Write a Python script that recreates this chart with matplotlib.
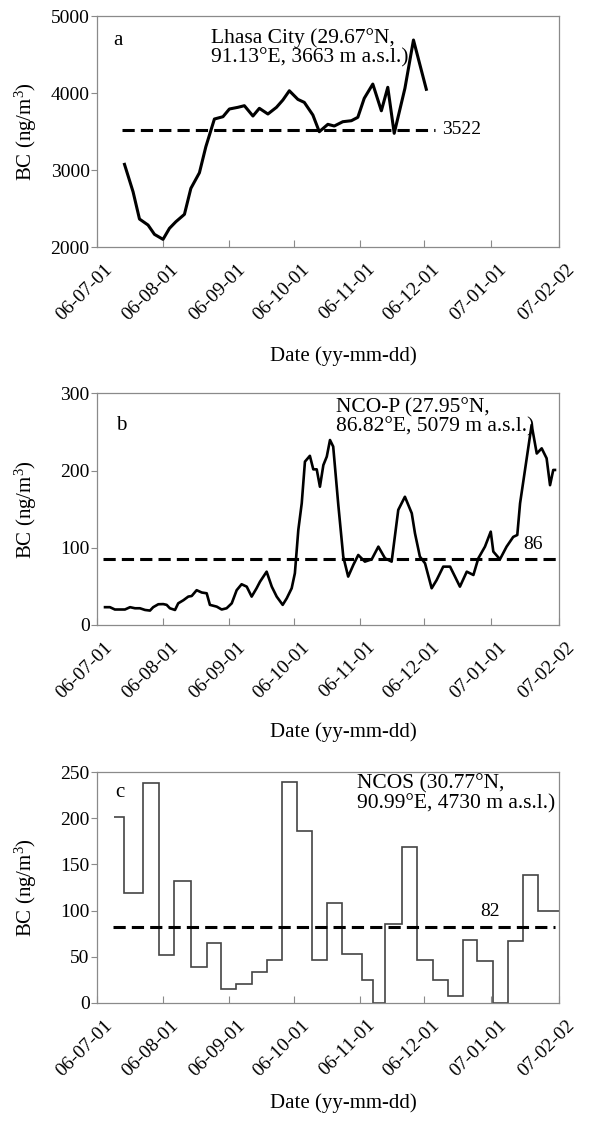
import matplotlib
matplotlib.use("Agg")
import matplotlib.pyplot as plt
import matplotlib.transforms as mtransforms
import numpy as np
import pandas as pd

plt.rcParams.update({
    "font.family": ["Liberation Serif", "DejaVu Serif"],
    "mathtext.fontset": "custom",
    "mathtext.rm": "Liberation Serif",
    "mathtext.default": "regular",
    "font.size": 14,
})

# x values are days after 2006-07-01
START = pd.Timestamp("2006-07-01")
XMAX = pd.Timestamp("2007-02-02")
tick_dates = ["2006-07-01", "2006-08-01", "2006-09-01", "2006-10-01",
              "2006-11-01", "2006-12-01", "2007-01-01", "2007-02-02"]

# (a) Lhasa City
lhasa_day = [13, 17, 20, 24, 27, 31, 34, 37, 41, 44, 48, 51, 55, 59, 62, 66, 69, 73, 76, 80,
             84, 87, 90, 94, 97, 101, 104, 108, 111, 115, 119, 122, 125, 129, 133, 136, 139,
             144, 148, 154]
lhasa_bc = [3074, 2718, 2364, 2286, 2165, 2100, 2243, 2329, 2425, 2762, 2965, 3303, 3663,
            3693, 3793, 3815, 3836, 3702, 3802, 3728, 3815, 3910, 4030, 3918, 3879, 3715,
            3498, 3594, 3572, 3628, 3641, 3685, 3932, 4117, 3770, 4075, 3477, 4061, 4689, 4049]
lhasa_mean = 3522
lhasa_mean_span = [12, 158]

# (b) NCO-P
ncop_day = [3.9, 6.2, 8.5, 10.9, 13.2, 15.6, 17.9, 20.2, 22.6, 24.9, 26.4, 28.8, 31.1, 32.7,
            34.2, 36.6, 38.1, 40.5, 42.8, 44.4, 46.7, 49.1, 51.4, 52.9, 56.1, 58.4, 60.7,
            63.1, 65.4, 67.7, 70.1, 72.4, 74.7, 76.3, 79.4, 81.8, 84.1, 86.9, 88.8, 91.1,
            92.6, 94.2, 95.8, 97.3, 99.6, 101.2, 102.8, 104.3, 105.9, 107.5, 109.0, 110.5,
            112.9, 115.2, 117.5, 119.9, 122.2, 125.3, 128.5, 131.6, 134.7, 137.8, 140.9,
            144.0, 147.2, 148.7, 151.0, 153.4, 156.5, 158.8, 161.9, 165.1, 167.4, 169.7,
            172.9, 176.0, 178.3, 181.4, 184.1, 185.3, 188.4, 191.5, 194.6, 196.5, 197.8,
            200.1, 203.2, 205.6, 207.9, 210.2, 211.8, 213.3, 214.1]
ncop_bc = [23, 23, 20, 20, 20, 23, 21.6, 21.6, 19.4, 18.6, 23, 26.8, 27, 26, 21.6, 19.4, 28,
           32, 36.7, 37.5, 45, 42, 41, 26, 23.7, 20, 21.6, 28, 45, 52.7, 49.6, 36.7, 47.5, 56,
           69, 49.6, 36.7, 26, 34.5, 47.5, 67, 123, 157.5, 211.5, 219, 201.5, 201.5, 179, 207,
           218, 239.5, 231, 155, 88.5, 62.6, 77.7, 90.6, 82, 85, 101.4, 86.3, 82, 149, 166,
           144.6, 118.7, 88.5, 79.8, 47.5, 58, 75.5, 75.5, 62.6, 49.6, 69, 64.7, 86.3, 101.4,
           120.8, 95, 85, 101.4, 114, 116.5, 157.5, 200.7, 259, 222, 228.7, 215.8, 181, 200.7,
           200.7]
ncop_mean = 86
ncop_mean_span = [3, 216]

# (c) NCOS weekly samples: bin edges and values
ncos_edges = [8.2, 12.9, 21.8, 29.1, 36.3, 44.1, 51.4, 58.2, 65.1, 72.6, 79.4, 86.6, 93.4,
              100.4, 107.5, 114.5, 123.8, 128.9, 134.7, 142.8, 149.8, 157.0, 164.0, 171.0,
              177.8, 185.0, 192.0, 199.0, 206.3, 216.1]
ncos_bc = [201, 119, 238, 52, 132, 39, 65, 15, 21, 34, 47, 239, 186, 46, 108, 53, 25, 0, 86,
           169, 46, 25, 8, 68, 45, 0, 67, 139, 100]
ncos_mean = 82
ncos_mean_span = [7.6, 214]


def to_dates(days):
    return START + pd.to_timedelta(np.asarray(days, dtype=float), unit="D")


SPINE = "#8a8a8a"

fig = plt.figure(figsize=(5.92, 11.24), dpi=100)
ax_a = fig.add_axes([0.1633, 0.7802, 0.7810, 0.2055])
ax_b = fig.add_axes([0.1633, 0.4440, 0.7810, 0.2061])
ax_c = fig.add_axes([0.1633, 0.1077, 0.7810, 0.2053])

# nudge rotated date labels right/down like the original
label_shift = mtransforms.ScaledTranslation(7 / 100, -4 / 100, fig.dpi_scale_trans)


def style(ax, ylim, yticks, label_y):
    ax.set_xlim(START, XMAX)
    ax.set_ylim(*ylim)
    ax.set_yticks(yticks)
    tds = pd.to_datetime(tick_dates)
    ax.set_xticks(tds, [d.strftime("%y-%m-%d") for d in tds], rotation=45,
                  ha="right", rotation_mode="anchor")
    for s in ax.spines.values():
        s.set_color(SPINE)
        s.set_linewidth(0.9)
    ax.tick_params(axis="x", direction="in", length=5, width=0.8, color=SPINE,
                   labelsize=14, pad=7)
    ax.tick_params(axis="y", direction="out", length=4, width=0.8, color=SPINE,
                   labelsize=14, pad=1)
    for tick in ax.xaxis.get_major_ticks():
        tick.label1.set_transform(tick.label1.get_transform() + label_shift)
    ax.set_ylabel("BC (ng/m$^{3}$)", fontsize=15)
    ax.yaxis.set_label_coords(-0.125, 0.5)
    ax.set_xlabel("Date (yy-mm-dd)", fontsize=15)
    ax.xaxis.set_label_coords(0.533, label_y)


dash = dict(color="black", linestyle=(0, (4, 2)), linewidth=2.2)

# panel a
ax_a.plot(to_dates(lhasa_day), lhasa_bc, color="black", linewidth=2.2)
ax_a.plot(to_dates(lhasa_mean_span), [lhasa_mean] * 2, **dash)
ax_a.annotate(str(lhasa_mean), xy=(to_dates([lhasa_mean_span[1]])[0], lhasa_mean),
              xytext=(5, 0), textcoords="offset points", va="center", ha="left", fontsize=14)
ax_a.text(0.035, 0.874, "a", transform=ax_a.transAxes, fontsize=15, va="baseline")
ax_a.text(0.247, 0.948, "Lhasa City (29.67°N,\n91.13°E, 3663 m a.s.l.)",
          transform=ax_a.transAxes, fontsize=15.5, va="top", ha="left", linespacing=1.0)
style(ax_a, (2000, 5000), [2000, 3000, 4000, 5000], -0.43)

# panel b
ax_b.plot(to_dates(ncop_day), ncop_bc, color="black", linewidth=1.9)
ax_b.plot(to_dates(ncop_mean_span), [ncop_mean] * 2, **dash)
ax_b.annotate(str(ncop_mean), xy=(to_dates([199.2])[0], ncop_mean),
              xytext=(0, 4), textcoords="offset points", va="bottom", ha="left", fontsize=14)
ax_b.text(0.042, 0.842, "b", transform=ax_b.transAxes, fontsize=15, va="baseline")
ax_b.text(0.517, 0.981, "NCO-P (27.95°N,\n86.82°E, 5079 m a.s.l.)",
          transform=ax_b.transAxes, fontsize=15.5, va="top", ha="left", linespacing=1.0)
style(ax_b, (0, 300), [0, 100, 200, 300], -0.42)

# panel c
edges = pd.to_datetime(to_dates(ncos_edges))
ax_c.stairs(ncos_bc, edges, color="#444444", linewidth=1.2, baseline=None)
ax_c.plot(to_dates(ncos_mean_span), [ncos_mean] * 2, **dash)
ax_c.annotate(str(ncos_mean), xy=(to_dates([179.1])[0], ncos_mean),
              xytext=(0, 5), textcoords="offset points", va="bottom", ha="left", fontsize=14)
ax_c.text(0.040, 0.894, "c", transform=ax_c.transAxes, fontsize=15, va="baseline")
ax_c.text(0.564, 0.991, "NCOS (30.77°N,\n90.99°E, 4730 m a.s.l.)",
          transform=ax_c.transAxes, fontsize=15.5, va="top", ha="left", linespacing=1.0)
style(ax_c, (0, 250), [0, 50, 100, 150, 200, 250], -0.39)

fig.savefig("out.png", dpi=100)
plt.close(fig)
